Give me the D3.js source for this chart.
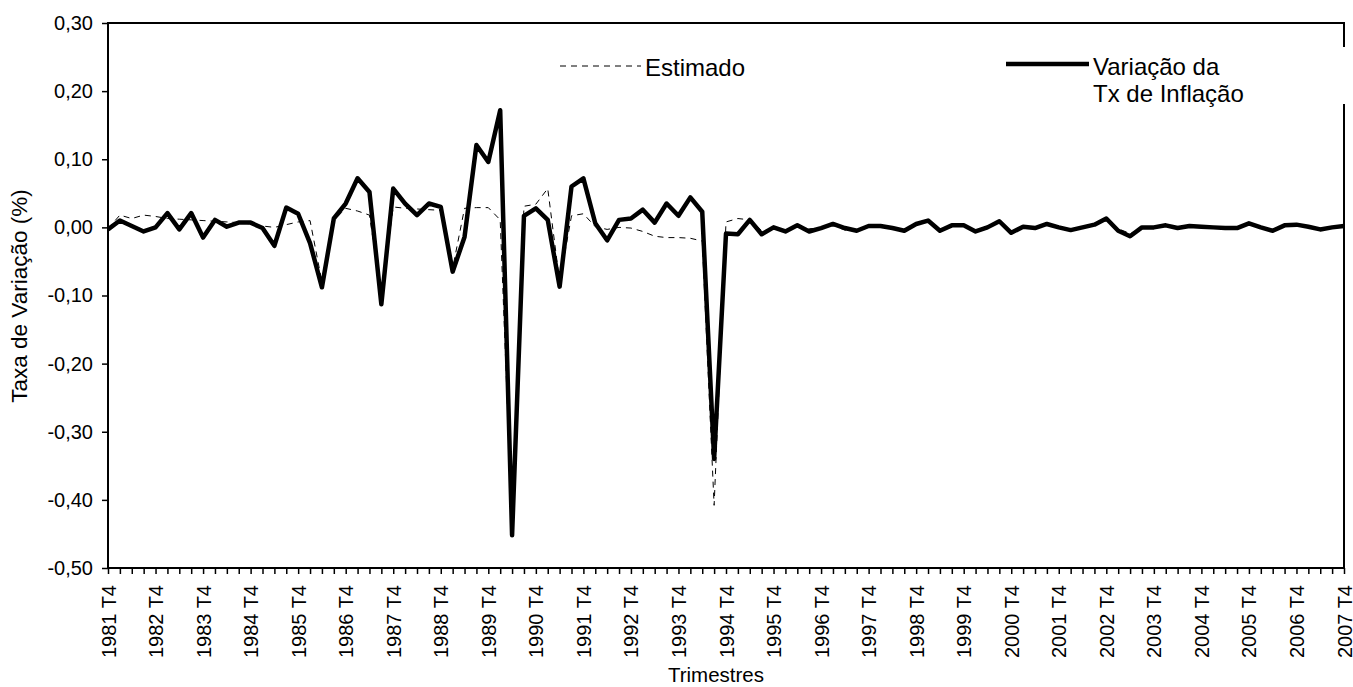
<!DOCTYPE html>
<html lang="pt">
<head>
    <meta charset="UTF-8">
    <title>Taxa de Variação</title>
    <script src="https://d3js.org/d3.v7.min.js"></script>
</head>
<body>
<style>
    html, body {
        margin: 0;
        padding: 0;
        overflow: hidden;
        background: #fff;
    }
    svg {
        display: block;
    }
    svg text {
        font-family: Arial, "Liberation Sans", sans-serif;
        fill: #000;
    }
</style>
<script>
    // first quarter of the series
    var startYear = 1981, startQuarter = 4;

    // Variação da Tx de Inflação (solid line)
    var variacao = [
        -0.003, 0.010, 0.002, -0.006, 0.000, 0.021, -0.003, 0.021, -0.015, 0.011,
        0.001, 0.007, 0.007, -0.001, -0.027, 0.029, 0.020, -0.023, -0.088, 0.013,
        0.035, 0.072, 0.052, -0.113, 0.057, 0.035, 0.018, 0.035, 0.030, -0.065,
        -0.014, 0.121, 0.096, 0.172, -0.452, 0.017, 0.028, 0.011, -0.087, 0.060,
        0.072, 0.006, -0.019, 0.011, 0.013, 0.026, 0.007, 0.035, 0.017, 0.044,
        0.023, -0.340, -0.009, -0.010, 0.011, -0.010, 0.000, -0.006, 0.003, -0.006,
        -0.001, 0.005, -0.001, -0.005, 0.002, 0.002, -0.001, -0.005, 0.005, 0.010,
        -0.005, 0.003, 0.003, -0.006, 0.000, 0.009, -0.008, 0.001, -0.001, 0.005,
        0.000, -0.004, 0.000, 0.004, 0.013, -0.005, -0.013, 0.000, 0.000, 0.003,
        -0.001, 0.002, 0.001, 0.000, -0.001, -0.001, 0.006, 0.000, -0.005, 0.003,
        0.004, 0.001, -0.003, 0.000, 0.002
    ];

    // Estimado (dashed line)
    var estimado = [
        -0.002, 0.018, 0.013, 0.018, 0.016, 0.013, 0.012, 0.011, 0.010, 0.009,
        0.008, 0.007, 0.005, 0.002, 0.000, 0.004, 0.008, 0.010, -0.080, 0.010,
        0.028, 0.024, 0.018, -0.100, 0.030, 0.028, 0.027, 0.026, 0.025, -0.060,
        0.028, 0.029, 0.029, 0.011, -0.440, 0.031, 0.034, 0.057, -0.080, 0.017,
        0.020, 0.001, -0.003, 0.000, -0.001, -0.006, -0.013, -0.015, -0.015, -0.016,
        -0.020, -0.408, 0.008, 0.013, 0.011, -0.005, -0.002, -0.004, 0.002, -0.002,
        -0.001, 0.003, -0.004, -0.004, 0.001, 0.002, 0.000, -0.004, 0.004, 0.008,
        -0.004, 0.002, 0.002, -0.004, 0.000, 0.007, -0.006, 0.001, 0.000, 0.004,
        0.001, -0.003, 0.000, 0.004, 0.010, -0.002, -0.009, -0.001, 0.000, 0.002,
        0.000, 0.002, 0.001, 0.000, -0.001, 0.000, 0.005, 0.000, -0.004, 0.002,
        0.003, 0.001, -0.002, 0.000, 0.001
    ];

    var tickLabels = [
        "1981 T4", "1982 T4", "1983 T4", "1984 T4", "1985 T4", "1986 T4", "1987 T4",
        "1988 T4", "1989 T4", "1990 T4", "1991 T4", "1992 T4", "1993 T4", "1994 T4",
        "1995 T4", "1996 T4", "1997 T4", "1998 T4", "1999 T4", "2000 T4", "2001 T4",
        "2002 T4", "2003 T4", "2004 T4", "2005 T4", "2006 T4", "2007 T4"
    ];

    var yTicks = [-0.5, -0.4, -0.3, -0.2, -0.1, 0, 0.1, 0.2, 0.3];

    var seriesNames = ["Estimado", "Variação da", "Tx de Inflação"];

    // quarter names, "1981 T4", "1982 T1", ...
    var categories = [];
    for (var i = 0; i < variacao.length; i++) {
        var q = startQuarter - 1 + i;
        categories.push((startYear + Math.floor(q / 4)) + " T" + (q % 4 + 1));
    }

    var W = 1353, H = 687;
    var margin = {top: 23, right: 9, bottom: 119, left: 108},
        width = W - margin.left - margin.right,
        height = H - margin.top - margin.bottom;

    var svg = d3.select("body")
        .append("svg")
        .attr("width", W)
        .attr("height", H);

    var g = svg.append("g")
        .attr("transform", "translate(" + margin.left + "," + margin.top + ")");

    var x = d3.scalePoint()
        .domain(categories)
        .range([0, width]);
    var y = d3.scaleLinear()
        .domain([-0.5, 0.3])
        .range([height, 0]);

    var fmt = function (d) {
        return d3.format(".2f")(d).replace(".", ",").replace("−", "-");
    };

    // x axis: tick at every quarter, label every 4th
    var xAxis = g.append("g")
        .attr("transform", "translate(0," + height + ")")
        .call(d3.axisBottom(x)
            .tickSize(6)
            .tickFormat(function (d) { return tickLabels.indexOf(d) >= 0 ? d : ""; }));
    xAxis.select(".domain").remove();
    xAxis.selectAll(".tick line").attr("stroke", "#000").attr("stroke-width", 1.5);
    xAxis.selectAll(".tick text")
        .style("font-size", "20px")
        .attr("text-anchor", "end")
        .attr("transform", "rotate(-90)")
        .attr("x", -17)
        .attr("y", 0)
        .attr("dy", "0.35em");

    // y axis
    var yAxis = g.append("g")
        .call(d3.axisLeft(y)
            .tickValues(yTicks)
            .tickSize(6)
            .tickPadding(9)
            .tickFormat(fmt));
    yAxis.select(".domain").remove();
    yAxis.selectAll(".tick line").attr("stroke", "#000").attr("stroke-width", 1.5);
    yAxis.selectAll(".tick text").style("font-size", "20px");

    // lines
    var line = d3.line()
        .x(function (d, i) { return x(categories[i]); })
        .y(function (d) { return y(d); });

    g.append("path")
        .datum(estimado)
        .attr("fill", "none")
        .attr("stroke", "#000")
        .attr("stroke-width", 1)
        .attr("stroke-dasharray", "6,5")
        .attr("d", line);

    g.append("path")
        .datum(variacao)
        .attr("fill", "none")
        .attr("stroke", "#000")
        .attr("stroke-width", 4.5)
        .attr("stroke-linejoin", "round")
        .attr("d", line);

    // plot frame
    g.append("rect")
        .attr("width", width)
        .attr("height", height)
        .attr("fill", "none")
        .attr("stroke", "#000")
        .attr("stroke-width", 2);

    // axis titles
    svg.append("text")
        .attr("x", margin.left + width / 2 - 10)
        .attr("y", 682)
        .attr("text-anchor", "middle")
        .style("font-size", "20.5px")
        .text("Trimestres");

    svg.append("text")
        .attr("transform", "translate(27,296) rotate(-90)")
        .attr("text-anchor", "middle")
        .style("font-size", "22.5px")
        .text("Taxa de Variação (%)");

    // legend (white box that covers the right frame edge)
    var legend = svg.append("g");
    legend.append("rect")
        .attr("x", 995)
        .attr("y", 47)
        .attr("width", W - 995)
        .attr("height", 57)
        .attr("fill", "#fff");

    legend.append("line")
        .attr("x1", 560).attr("x2", 641)
        .attr("y1", 66).attr("y2", 66)
        .attr("stroke", "#000")
        .attr("stroke-width", 1)
        .attr("stroke-dasharray", "6,5");
    legend.append("text")
        .attr("x", 645)
        .attr("y", 76)
        .style("font-size", "24px")
        .text(seriesNames[0]);

    legend.append("line")
        .attr("x1", 1006).attr("x2", 1089)
        .attr("y1", 64).attr("y2", 64)
        .attr("stroke", "#000")
        .attr("stroke-width", 4.5);
    legend.append("text")
        .attr("x", 1093)
        .attr("y", 75)
        .style("font-size", "24px")
        .text(seriesNames[1]);
    legend.append("text")
        .attr("x", 1093)
        .attr("y", 102)
        .style("font-size", "24px")
        .text(seriesNames[2]);
</script>
</body>
</html>
